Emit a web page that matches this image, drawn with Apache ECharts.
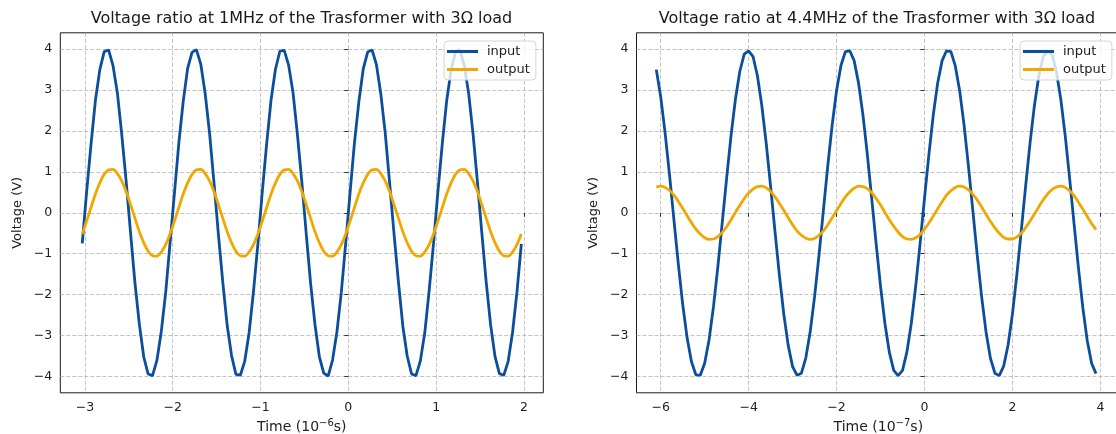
<!DOCTYPE html>
<html><head><meta charset="utf-8">
<script src="https://cdn.jsdelivr.net/npm/echarts@6/dist/echarts.min.js"></script>
<style>html,body{margin:0;padding:0;background:#fff}#c{width:1116px;height:434px}</style>
</head><body><div id="c"></div>
<script>
// ---- data (time in 10^-6 s for left, 10^-7 s for right; voltage in V) ----
const titleLeft = 'Voltage ratio at 1MHz of the Trasformer with 3Ω load';
const titleRight = 'Voltage ratio at 4.4MHz of the Trasformer with 3Ω load';
const seriesNames = ['input', 'output'];
const yTicks = [-4, -3, -2, -1, 0, 1, 2, 3, 4];
const xTicksLeft = [-3, -2, -1, 0, 1, 2];
const xTicksRight = [-6, -4, -2, 0, 2, 4];

const tLeft = [
-3.03,-2.98,-2.93,-2.88,-2.83,-2.78,-2.73,-2.68,-2.63,-2.58,
-2.53,-2.48,-2.43,-2.38,-2.33,-2.28,-2.23,-2.18,-2.13,-2.08,
-2.03,-1.98,-1.93,-1.88,-1.83,-1.78,-1.73,-1.68,-1.63,-1.58,
-1.53,-1.48,-1.43,-1.38,-1.33,-1.28,-1.23,-1.18,-1.13,-1.08,
-1.03,-0.98,-0.93,-0.88,-0.83,-0.78,-0.73,-0.68,-0.63,-0.58,
-0.53,-0.48,-0.43,-0.38,-0.33,-0.28,-0.23,-0.18,-0.13,-0.08,
-0.03,0.02,0.07,0.12,0.17,0.22,0.27,0.32,0.37,0.42,
0.47,0.52,0.57,0.62,0.67,0.72,0.77,0.82,0.87,0.92,
0.97,1.02,1.07,1.12,1.17,1.22,1.27,1.32,1.37,1.42,
1.47,1.52,1.57,1.62,1.67,1.72,1.77,1.82,1.87,1.92,
1.97];

const inputLeft = [
-0.75,0.52,1.68,2.75,3.50,3.94,3.98,3.60,2.93,1.91,0.77,-0.49,-1.71,-2.72,-3.52,-3.94,-3.98,-3.61,-2.90,-1.95,
-0.73,0.49,1.71,2.73,3.53,3.92,3.99,3.63,2.91,1.94,0.74,-0.52,-1.69,-2.75,-3.49,-3.95,-3.97,-3.63,-2.93,-1.92,
-0.76,0.51,1.69,2.76,3.51,3.95,3.97,3.61,2.94,1.92,0.76,-0.50,-1.72,-2.73,-3.52,-3.92,-3.99,-3.60,-2.91,-1.94,
-0.74,0.50,1.72,2.72,3.52,3.93,3.98,3.62,2.90,1.95,0.73,-0.51,-1.68,-2.76,-3.50,-3.94,-3.98,-3.62,-2.94,-1.91,
-0.75,0.52,1.70,2.74,3.49,3.94,3.99,3.60,2.92,1.93,0.75,-0.49,-1.70,-2.74,-3.51,-3.93,-3.97,-3.63,-2.92,-1.94,
-0.76];

const outputLeft = [
-0.52,-0.20,0.13,0.46,0.73,0.94,1.05,1.06,0.96,0.78,0.52,0.20,-0.13,-0.46,-0.73,-0.94,-1.05,-1.06,-0.96,-0.78,
-0.52,-0.20,0.13,0.46,0.73,0.94,1.05,1.06,0.96,0.78,0.52,0.20,-0.13,-0.46,-0.73,-0.94,-1.05,-1.06,-0.96,-0.78,
-0.52,-0.20,0.13,0.46,0.73,0.94,1.05,1.06,0.96,0.78,0.52,0.20,-0.13,-0.46,-0.73,-0.94,-1.05,-1.06,-0.96,-0.78,
-0.52,-0.20,0.13,0.46,0.73,0.94,1.05,1.06,0.96,0.78,0.52,0.20,-0.13,-0.46,-0.73,-0.94,-1.05,-1.06,-0.96,-0.78,
-0.52,-0.20,0.13,0.46,0.73,0.94,1.05,1.06,0.96,0.78,0.52,0.20,-0.13,-0.46,-0.73,-0.94,-1.05,-1.06,-0.96,-0.78,
-0.52];

const tRight = [
-6.1,-6.0,-5.9,-5.8,-5.7,-5.6,-5.5,-5.4,-5.3,-5.2,
-5.1,-5.0,-4.9,-4.8,-4.7,-4.6,-4.5,-4.4,-4.3,-4.2,
-4.1,-4.0,-3.9,-3.8,-3.7,-3.6,-3.5,-3.4,-3.3,-3.2,
-3.1,-3.0,-2.9,-2.8,-2.7,-2.6,-2.5,-2.4,-2.3,-2.2,
-2.1,-2.0,-1.9,-1.8,-1.7,-1.6,-1.5,-1.4,-1.3,-1.2,
-1.1,-1.0,-0.9,-0.8,-0.7,-0.6,-0.5,-0.4,-0.3,-0.2,
-0.1,0.0,0.1,0.2,0.3,0.4,0.5,0.6,0.7,0.8,
0.9,1.0,1.1,1.2,1.3,1.4,1.5,1.6,1.7,1.8,
1.9,2.0,2.1,2.2,2.3,2.4,2.5,2.6,2.7,2.8,
2.9,3.0,3.1,3.2,3.3,3.4,3.5,3.6,3.7,3.8,
3.9];

const inputRight = [
3.50,2.84,1.96,0.94,-0.16,-1.24,-2.23,-3.05,-3.64,-3.96,
-3.97,-3.68,-3.11,-2.30,-1.32,-0.24,0.85,1.89,2.78,3.46,
3.88,3.96,3.82,3.35,2.62,1.70,0.64,-0.46,-1.53,-2.48,
-3.24,-3.76,-3.97,-3.92,-3.55,-2.91,-2.05,-1.04,0.06,1.15,
2.15,2.99,3.60,3.94,3.96,3.72,3.17,2.39,1.42,0.34,
-0.76,-1.80,-2.71,-3.41,-3.85,-3.98,-3.85,-3.40,-2.70,-1.79,
-0.74,0.36,1.43,2.40,3.18,3.72,3.96,3.94,3.59,2.98,
2.14,1.13,0.04,-1.05,-2.06,-2.92,-3.56,-3.92,-3.98,-3.75,
-3.23,-2.47,-1.51,-0.44,0.66,1.71,2.63,3.35,3.82,3.96,
3.87,3.45,2.77,1.88,0.84,-0.26,-1.34,-2.32,-3.12,-3.68,
-3.93];

const outputRight = [
0.63,0.65,0.62,0.55,0.43,0.28,0.11,-0.07,-0.24,-0.40,
-0.52,-0.61,-0.65,-0.64,-0.58,-0.48,-0.34,-0.17,0.01,0.18,
0.35,0.48,0.58,0.64,0.65,0.61,0.52,0.39,0.23,0.06,
-0.12,-0.29,-0.44,-0.55,-0.62,-0.65,-0.63,-0.55,-0.44,-0.29,
-0.12,0.05,0.23,0.39,0.51,0.60,0.65,0.64,0.59,0.49,
0.35,0.19,0.01,-0.17,-0.33,-0.47,-0.58,-0.64,-0.65,-0.61,
-0.53,-0.40,-0.25,-0.08,0.10,0.27,0.43,0.54,0.62,0.65,
0.63,0.56,0.45,0.31,0.14,-0.04,-0.21,-0.37,-0.50,-0.60,
-0.64,-0.64,-0.59,-0.50,-0.36,-0.20,-0.03,0.15,0.32,0.46,
0.57,0.63,0.65,0.62,0.54,0.42,0.26,0.09,-0.09,-0.26,
-0.41];

// ---- styling ----
const FONT = 'DejaVu Sans';
const C_IN = '#0b4f9c';
const C_OUT = '#f0a800';
const TXT = '#222';
const fmt = v => (v < 0 ? '\u2212' + Math.abs(v) : String(v));

function xAxisCfg(gi, min, max, ticks, exp) {
  return {
    type: 'value', gridIndex: gi, min: min, max: max, splitNumber: 5,
    axisLine: { show: false },
    axisTick: { show: true, length: 4, customValues: ticks, lineStyle: { color: '#333', width: 1 } },
    axisLabel: { customValues: ticks, formatter: fmt, margin: 8, fontSize: 12.5, color: TXT, fontFamily: FONT },
    splitLine: { show: true, lineStyle: { type: [4, 2], color: '#b4b4b4', width: 0.8 } },
    name: '{a|Time (10}{s|\u2212' + exp + '}{a|s)}',
    nameLocation: 'middle', nameGap: 17,
    nameTextStyle: {
      color: TXT, fontFamily: FONT, fontSize: 14,
      rich: {
        a: { fontSize: 14, color: TXT, fontFamily: FONT, verticalAlign: 'bottom' },
        s: { fontSize: 10, color: TXT, fontFamily: FONT, verticalAlign: 'bottom', padding: [0, 0, 6, 0] }
      }
    }
  };
}
function yAxisCfg(gi) {
  return {
    type: 'value', gridIndex: gi, min: -4.4, max: 4.4, splitNumber: 9,
    axisLine: { show: false },
    axisTick: { show: true, length: 4, customValues: yTicks, lineStyle: { color: '#333', width: 1 } },
    axisLabel: { customValues: yTicks, formatter: fmt, margin: 8, fontSize: 12.5, color: TXT, fontFamily: FONT },
    splitLine: { show: true, lineStyle: { type: [4, 2], color: '#b4b4b4', width: 0.8 } },
    name: 'Voltage (V)', nameLocation: 'middle', nameRotate: 90, nameGap: 36,
    nameTextStyle: { color: TXT, fontFamily: FONT, fontSize: 13 }
  };
}
function legendCfg(left) {
  return {
    data: seriesNames, orient: 'vertical', left: left, top: 41,
    icon: 'rect', itemWidth: 31, itemHeight: 3, itemGap: 5,
    padding: [4, 6, 4, 3],
    backgroundColor: 'rgba(255,255,255,0.8)', borderColor: '#d4d4d4', borderWidth: 1, borderRadius: 4,
    textStyle: { fontSize: 13, color: TXT, fontFamily: FONT, padding: [0, 0, 0, 4] },
    selectedMode: false
  };
}
function line(name, xi, t, v, color, smooth) {
  return {
    type: 'line', name: name, xAxisIndex: xi, yAxisIndex: xi,
    data: t.map((x, i) => [x, v[i]]),
    showSymbol: false, symbol: 'none', smooth: smooth,
    lineStyle: { color: color, width: 2.8 }, itemStyle: { color: color },
    animation: false
  };
}

const chart = echarts.init(document.getElementById('c'), null, { renderer: 'canvas' });
chart.setOption({
  animation: false,
  backgroundColor: '#fff',
  textStyle: { fontFamily: FONT },
  grid: [
    { left: 60.3, top: 32.8, width: 483, height: 360, outerBoundsMode: 'none', containLabel: false,
      show: true, borderColor: '#1a1a1a', borderWidth: 1, backgroundColor: 'transparent' },
    { left: 636.5, top: 32.8, width: 483.7, height: 360, outerBoundsMode: 'none', containLabel: false,
      show: true, borderColor: '#1a1a1a', borderWidth: 1, backgroundColor: 'transparent' }
  ],
  xAxis: [xAxisCfg(0, -3.28, 2.22, xTicksLeft, '6'), xAxisCfg(1, -6.55, 4.45, xTicksRight, '7')],
  yAxis: [yAxisCfg(0), yAxisCfg(1)],
  legend: [legendCfg(444), legendCfg(1020)],
  graphic: [
    { type: 'text', x: 301.5, y: 18.5, style: { text: titleLeft, fontSize: 16, fontFamily: FONT, fill: '#1a1a1a', align: 'center', verticalAlign: 'middle' } },
    { type: 'text', x: 877, y: 18.5, style: { text: titleRight, fontSize: 16, fontFamily: FONT, fill: '#1a1a1a', align: 'center', verticalAlign: 'middle' } }
  ],
  series: [
    line(seriesNames[0], 0, tLeft, inputLeft, C_IN, false),
    line(seriesNames[1], 0, tLeft, outputLeft, C_OUT, 0.3),
    line(seriesNames[0], 1, tRight, inputRight, C_IN, false),
    line(seriesNames[1], 1, tRight, outputRight, C_OUT, 0.3)
  ]
});
</script>
</body></html>
